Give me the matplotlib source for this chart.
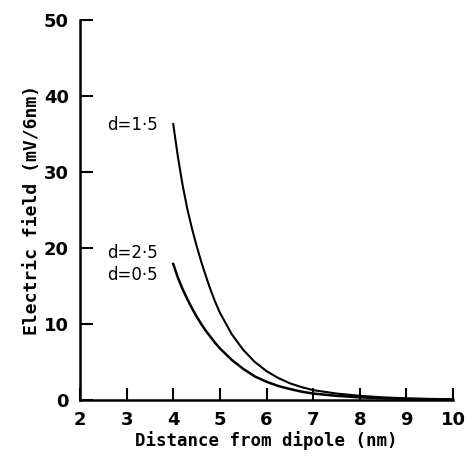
import matplotlib
matplotlib.use("Agg")
import matplotlib.pyplot as plt

# values
distance = [4.0, 4.1, 4.2, 4.3, 4.4, 4.5, 4.6, 4.7, 4.8, 4.9, 5.0,
            5.25, 5.5, 5.75, 6.0, 6.25, 6.5, 6.75, 7.0, 7.5, 8.0, 8.5, 9.0, 9.5, 10.0]
field_d15 = [36.3, 32.0, 28.3, 25.2, 22.6, 20.3, 18.2, 16.3, 14.5, 12.9, 11.5,
             8.7, 6.6, 5.0, 3.8, 2.9, 2.2, 1.7, 1.3, 0.85, 0.55, 0.35, 0.22, 0.15, 0.1]
field_d05 = [17.9, 16.1, 14.6, 13.3, 12.1, 11.0, 10.0, 9.1, 8.3, 7.5, 6.8,
             5.3, 4.1, 3.1, 2.4, 1.85, 1.45, 1.1, 0.85, 0.55, 0.35, 0.22, 0.14, 0.09, 0.06]

labels = ["d=1·5", "d=2·5", "d=0·5"]
label_y = [36.2, 19.3, 16.4]

fig = plt.figure(figsize=(4.73, 4.58), dpi=100)
ax = fig.add_axes([0.169, 0.1266, 0.789, 0.8297])

ax.plot(distance, field_d15, color="black", lw=1.5)
ax.plot(distance, field_d05, color="black", lw=1.8)

for lab, yy in zip(labels, label_y):
    ax.text(2.58, yy, lab, fontsize=12, va="center", ha="left")

ax.set_xlim(2, 10)
ax.set_ylim(0, 50)
ax.set_xticks(range(2, 11))
ax.set_yticks(range(0, 51, 10))

ax.spines["top"].set_visible(False)
ax.spines["right"].set_visible(False)
ax.spines["left"].set_linewidth(1.8)
ax.spines["bottom"].set_linewidth(1.8)
ax.tick_params(direction="in", length=9, width=1.5, labelsize=13, pad=8)
for t in ax.get_xticklabels() + ax.get_yticklabels():
    t.set_fontweight("bold")

ax.set_xlabel("Distance from dipole (nm)", fontsize=12.5, fontweight="bold",
              family="DejaVu Sans Mono", labelpad=1)
ax.set_ylabel("Electric field (mV/6nm)", fontsize=13, fontweight="bold",
              family="DejaVu Sans Mono", labelpad=2)

fig.savefig("out.png", dpi=100)
